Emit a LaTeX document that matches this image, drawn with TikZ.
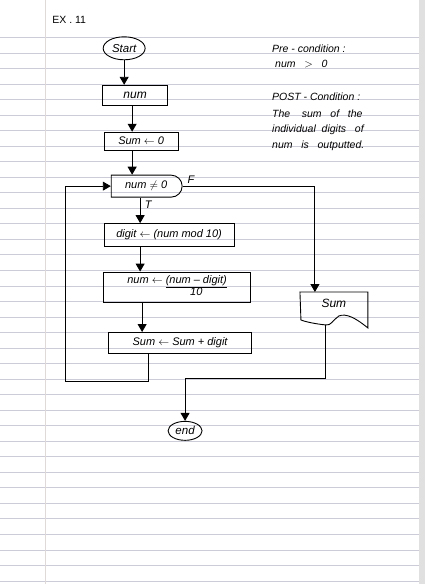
\documentclass[tikz,border=0pt]{standalone}
\usepackage{fontspec}
\setmainfont{Liberation Sans}
\usetikzlibrary{arrows.meta,shapes.geometric,shapes.misc}
\begin{document}
\begin{tikzpicture}[x=1pt,y=-1pt,
  every node/.style={font=\itshape\fontsize{11}{13}\selectfont, inner sep=1pt},
  box/.style={draw, line width=0.9pt, rectangle},
  oval/.style={draw, line width=0.9pt, ellipse, inner sep=0pt},
  arr/.style={line width=0.9pt, -{Triangle[width=9pt,length=8pt]}},
  ln/.style={line width=0.9pt},
  note/.style={anchor=west, font=\itshape\fontsize{10.5}{13}\selectfont}]
% paper
\fill[white] (0,0) rectangle (425,584);
\fill[black!12] (419,0) rectangle (425,584);
\foreach \k in {0,...,35} \draw[blue!25!black!20, line width=0.6pt] (0,37+15.55*\k) -- (419,37+15.55*\k);
\draw[red!20!black!15, line width=0.7pt] (45,0) -- (45,584);
% title
\node[anchor=west, font=\fontsize{10.5}{12}\selectfont] (title) at (51,20) {EX . 11};
% flowchart nodes
\node[oval, minimum width=42pt, minimum height=23pt, font=\itshape\fontsize{11.5}{13}\selectfont] (start) at (124,48) {Start};
\node[box, minimum width=65pt, minimum height=20pt, font=\itshape\fontsize{12}{14}\selectfont] (input) at (135,95) {num};
\node[box, minimum width=74pt, minimum height=18pt] (init) at (141,141) {Sum $\leftarrow$ 0};
\node[draw, line width=0.9pt, rounded rectangle, rounded rectangle left arc=none,
      minimum width=73pt, minimum height=22pt] (dec) at (146,186) {num $\neq$ 0};
\node[box, minimum width=130pt, minimum height=23pt] (dig) at (169,235) {digit $\leftarrow$ (num mod 10)};
\node[box, minimum width=147pt, minimum height=30pt] (upd) at (177,287)
  {num $\leftarrow$ \begin{tabular}[t]{@{}c@{}}\underline{(num -- digit)}\\[-2pt] 10\end{tabular}};
\node[box, minimum width=143pt, minimum height=21pt] (acc) at (180,343) {Sum $\leftarrow$ Sum + digit};
\node[minimum width=68pt, minimum height=30pt, font=\itshape\fontsize{12}{14}\selectfont] (out) at (334,303) {Sum};
\draw[ln] (300,292) -- (368,292) -- (368,328)
  .. controls (356,318) and (346,313) .. (339,316)
  .. controls (333,320) and (331,326) .. (326,325)
  .. controls (316,324) and (306,322) .. (301,320) -- cycle;
\node[oval, minimum width=34pt, minimum height=19pt, font=\itshape\fontsize{11.5}{13}\selectfont] (end) at (185,431) {end};
% labels
\node (F) at (191,180) {F};
\node (T) at (148,205) {T};
% notes
\node[note] (pre) at (271,48) {Pre - condition :};
\node[note] (prec) at (274,64) {num \ \ $>$ \ \ 0};
\node[note] (post) at (271,97) {POST - Condition :};
\node[note] (l1) at (271,114) {The \ \ \ sum \ \ of \ \ the};
\node[note] (l2) at (271,130) {individual \ digits \ \ of};
\node[note] (l3) at (271,146) {num \ \ is \ \ outputted.};
% connectors
\coordinate (outt) at (315,292);
\coordinate (outb) at (326,325);
\draw[arr] (start.south) -- (start.south |- input.north);
\draw[arr] ([xshift=-3pt]input.south) -- ([xshift=-3pt]input.south |- init.north);
\draw[arr] ([xshift=-9pt]init.south) -- ([xshift=-9pt]init.south |- dec.north);
\draw[arr] ([xshift=-6pt]dec.south) -- ([xshift=-6pt]dec.south |- dig.north);
\draw[arr] ([xshift=-29pt]dig.south) -- ([xshift=-29pt]dig.south |- upd.north);
\draw[arr] ([xshift=-35pt]upd.south) -- ([xshift=-35pt]upd.south |- acc.north);
\draw[arr] ([xshift=-32pt]acc.south) -- ++(0,28) -| (65,300) |- (dec.west);
\draw[arr] (dec.east) -| (outt);
\draw[arr] (outb) -- ++(0,54) -| (end.north);
\end{tikzpicture}
\end{document}
